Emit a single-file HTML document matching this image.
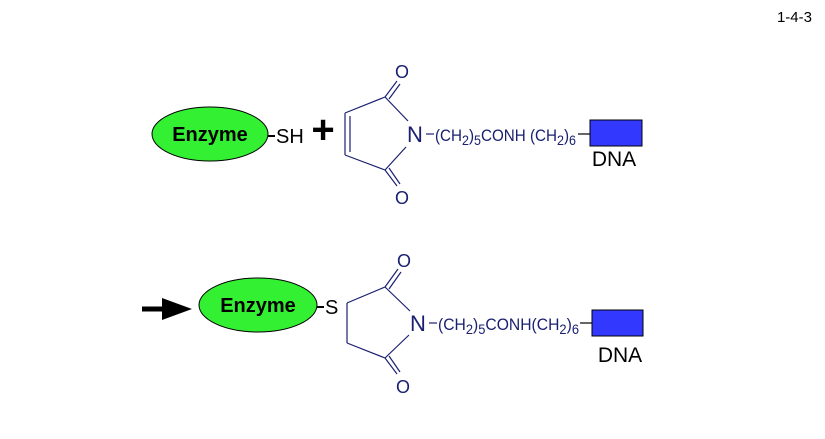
<!DOCTYPE html>
<html><head><style>body{margin:0;background:#fff}svg{display:block}</style></head><body>
<svg width="825" height="439" xmlns="http://www.w3.org/2000/svg" font-family="Liberation Sans, Arial, sans-serif">
<text x="812" y="22" font-size="15" text-anchor="end">1-4-3</text>
<!-- top -->
<ellipse cx="210" cy="134" rx="58" ry="27" fill="#33f033" stroke="#000" stroke-width="1"/>
<text x="210" y="141" font-size="20" font-weight="bold" text-anchor="middle">Enzyme</text>
<line x1="268" y1="136" x2="275" y2="136" stroke="#000" stroke-width="2"/>
<text x="276" y="143" font-size="20">SH</text>
<text x="323" y="143" font-size="40" font-weight="bold" text-anchor="middle">+</text>
<g stroke="#1a2070" stroke-width="1.2" fill="none">
<line x1="345" y1="113" x2="385" y2="97"/>
<line x1="345" y1="113" x2="345" y2="155"/>
<line x1="350" y1="116" x2="350" y2="152"/>
<line x1="345" y1="155" x2="385" y2="170"/>
<line x1="385" y1="97" x2="408" y2="121"/>
<line x1="385" y1="170" x2="406" y2="147"/>
<line x1="385" y1="97" x2="397" y2="81"/><line x1="389" y1="99" x2="400" y2="84"/>
<line x1="385" y1="170" x2="397" y2="186"/><line x1="389" y1="168" x2="400" y2="184"/>
<line x1="426" y1="134" x2="434" y2="134"/>
<line x1="578" y1="134" x2="590" y2="134" stroke="#000"/>
</g>
<g fill="#1a2070">
<text x="402" y="78" font-size="18" text-anchor="middle">O</text>
<text x="402" y="204" font-size="18" text-anchor="middle">O</text>
<text x="415" y="142" font-size="22" text-anchor="middle">N</text>
<text x="435" y="141" font-size="17" textLength="141" lengthAdjust="spacingAndGlyphs">(CH<tspan font-size="14" dy="4">2</tspan><tspan dy="-4">)</tspan><tspan font-size="14" dy="4">5</tspan><tspan dy="-4">CONH (CH</tspan><tspan font-size="14" dy="4">2</tspan><tspan dy="-4">)</tspan><tspan font-size="14" dy="4">6</tspan></text>
</g>
<rect x="590" y="120" width="52" height="26" fill="#3338ff" stroke="#000"/>
<text x="614" y="166" font-size="21" text-anchor="middle">DNA</text>
<!-- bottom -->
<line x1="142" y1="309" x2="168" y2="309" stroke="#000" stroke-width="5"/>
<polygon points="162,298 192,309 162,320" fill="#000"/>
<ellipse cx="258" cy="305" rx="59" ry="27" fill="#33f033" stroke="#000" stroke-width="1"/>
<text x="258" y="312" font-size="20" font-weight="bold" text-anchor="middle">Enzyme</text>
<line x1="317" y1="307" x2="324" y2="307" stroke="#000" stroke-width="2"/>
<text x="325" y="314" font-size="20">S</text>
<g stroke="#1a2070" stroke-width="1.2" fill="none">
<line x1="347" y1="303" x2="385" y2="287"/>
<line x1="347" y1="303" x2="347" y2="343"/>
<line x1="347" y1="343" x2="385" y2="358"/>
<line x1="385" y1="287" x2="410" y2="311"/>
<line x1="385" y1="358" x2="409" y2="335"/>
<line x1="385" y1="287" x2="398" y2="269"/><line x1="389" y1="289" x2="401" y2="272"/>
<line x1="385" y1="358" x2="397" y2="374"/><line x1="389" y1="356" x2="400" y2="372"/>
<line x1="429" y1="323" x2="437" y2="323"/>
<line x1="580" y1="323" x2="592" y2="323" stroke="#000"/>
</g>
<g fill="#1a2070">
<text x="404" y="267" font-size="18" text-anchor="middle">O</text>
<text x="403" y="393" font-size="18" text-anchor="middle">O</text>
<text x="418" y="331" font-size="22" text-anchor="middle">N</text>
<text x="438" y="330" font-size="17" textLength="141" lengthAdjust="spacingAndGlyphs">(CH<tspan font-size="14" dy="4">2</tspan><tspan dy="-4">)</tspan><tspan font-size="14" dy="4">5</tspan><tspan dy="-4">CONH(CH</tspan><tspan font-size="14" dy="4">2</tspan><tspan dy="-4">)</tspan><tspan font-size="14" dy="4">6</tspan></text>
</g>
<rect x="592" y="310" width="51" height="26" fill="#3338ff" stroke="#000"/>
<text x="620" y="362" font-size="21" text-anchor="middle">DNA</text>
</svg>
</body></html>
